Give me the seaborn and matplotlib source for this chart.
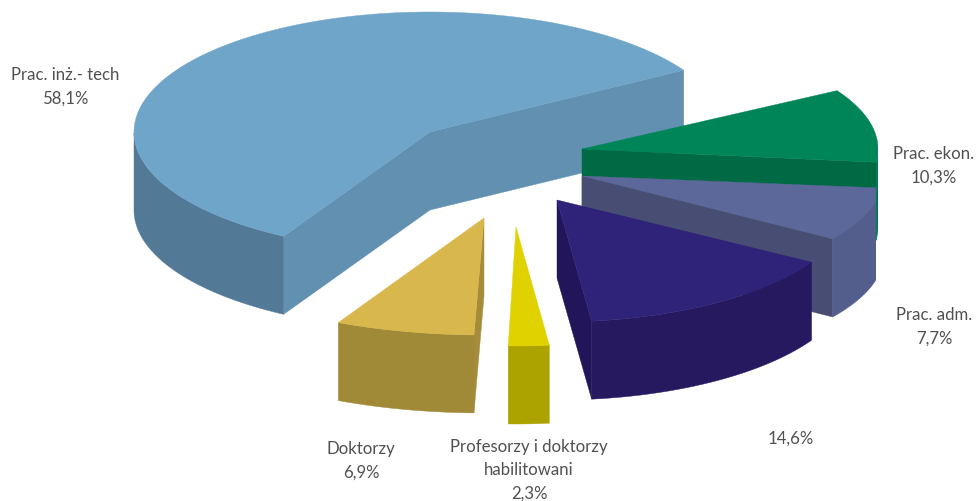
import numpy as np
import seaborn as sns
import matplotlib
matplotlib.use("Agg")
import matplotlib.pyplot as plt
from matplotlib.patches import Polygon, Rectangle

# data
categories = ["Prac. inż.- tech", "Doktorzy", "Profesorzy i doktorzy\nhabilitowani", "", "Prac. adm.", "Prac. ekon."]
values = [58.1, 6.9, 2.3, 14.6, 7.7, 10.3]

# styles
start_angle = 30.0
apex_x = [430, 484, 516, 557, 582, 582]
apex_y = [133, 219, 228, 201, 177, 150]
radius_x = [296, 325, 285, 296, 302, 296]
radius_y = [120, 117, 119, 122, 113, 115]
depth = 78
nudge = [1.0, 4.0, 4.2, 4.2, 1.0, 0.5]
top_colors = ["#6FA5C9", "#D8B84C", "#E0D200", "#2F2279", "#5C6899", "#008558"]
rim_colors = ["#527A97", "#A08A37", "#ACA300", "#27195F", "#535E8C", "#007A50"]
start_faces = ["#6190B0", None, None, "#22155A", "#484D73", "#006A45"]
end_faces = ["#6190B0", "#A68C3A", None, None, None, None]
label_x = [65, 361, 529, 791, 934, 934]
label_y = [87, 461, 470, 439, 327, 166]
draw_order = [0, 5, 4, 3, 1, 2]
clip_right = [976, 976, 976, 976, 876, 878]

sns.set_theme(style="white")
plt.rcParams["font.family"] = ["Lato", "DejaVu Sans"]

fig = plt.figure(figsize=(9.76, 5.02), dpi=100)
ax = fig.add_axes([0, 0, 1, 1])
ax.set_xlim(0, 976)
ax.set_ylim(502, 0)
ax.axis("off")

spans = np.array(values) / np.sum(values) * 360.0
starts = start_angle + np.concatenate([[0], np.cumsum(spans)[:-1]])


def point(i, deg, drop=0.0):
    t = np.radians(deg)
    return (apex_x[i] + radius_x[i] * np.cos(t),
            apex_y[i] - radius_y[i] * np.sin(t) + drop)


def add_poly(pts, color, zorder, right):
    p = Polygon(np.array(pts), closed=True, facecolor=color, edgecolor=color, lw=0.3, zorder=zorder)
    ax.add_patch(p)
    p.set_clip_path(Rectangle((0, 0), right, 502, transform=ax.transData))


for z, i in enumerate(draw_order):
    a0 = starts[i] + nudge[i]
    a1 = a0 + spans[i]
    apex = (apex_x[i], apex_y[i])
    drop = (apex_x[i], apex_y[i] + depth)
    ts = np.linspace(a0, a1, 200)
    base = z * 10
    right = clip_right[i]
    if start_faces[i]:
        add_poly([apex, point(i, a0), point(i, a0, depth), drop], start_faces[i], base + 1, right)
    if end_faces[i]:
        add_poly([apex, point(i, a1), point(i, a1, depth), drop], end_faces[i], base + 1, right)
    front = ts[np.sin(np.radians(ts)) <= 0]
    if len(front) > 1:
        upper = [point(i, t) for t in front]
        lower = [point(i, t, depth) for t in front[::-1]]
        add_poly(upper + lower, rim_colors[i], base + 2, right)
    add_poly([apex] + [point(i, t) for t in ts], top_colors[i], base + 3, right)

for name, value, x, y in zip(categories, values, label_x, label_y):
    pct = f"{value:.1f}%".replace(".", ",")
    text = f"{name}\n{pct}" if name else pct
    ax.text(x, y, text, ha="center", va="center", fontsize=12.1, color="#505050",
            linespacing=1.55, zorder=200)

fig.savefig("out.png", dpi=100, facecolor="white")
